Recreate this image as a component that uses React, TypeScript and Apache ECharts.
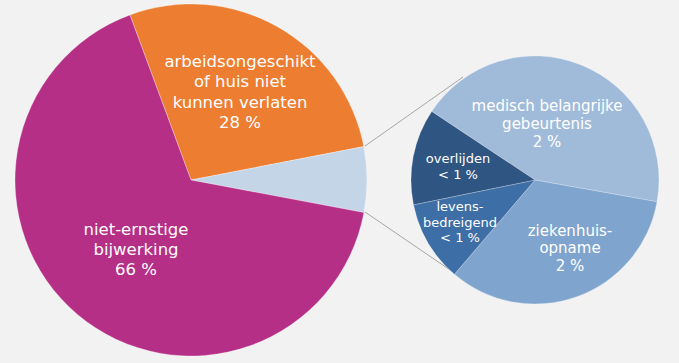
import React, { useEffect, useRef } from "react";
import * as echarts from "echarts";

// Main pie
const mainNames = ["arbeidsongeschikt\nof huis niet\nkunnen verlaten", "ernstig (uitgesplitst)", "niet-ernstige\nbijwerking"];
const mainValues = [27.6, 6.0, 66.4];
const mainLabels = ["28 %", "", "66 %"];
const mainColors = ["#ED7D31", "#C5D5E8", "#B52F86"];

// Detail pie
const detailNames = ["medisch belangrijke\ngebeurtenis", "ziekenhuis-\nopname", "levens-\nbedreigend", "overlijden"];
const detailValues = [2.6, 2.0, 0.63, 0.75];
const detailLabels = ["2 %", "2 %", "< 1 %", "< 1 %"];
const detailColors = ["#A0BBDA", "#7FA4CD", "#3E6EA6", "#2F5582"];

// label layout (text block centers, font size, line height)
const mainLabelPos = [[240, 92, 16.5, 20.5], null, [136, 249, 16.5, 20]];
const detailLabelPos = [[547, 124, 15, 18], [570, 248, 15, 17.5], [460, 222, 13, 15.5], [458, 166, 13, 16]];

export default function App() {
  const ref = useRef<HTMLDivElement>(null);
  useEffect(() => {
    document.body.style.margin = "0";
    const chart = echarts.init(ref.current!, null, { renderer: "svg" });
    const texts: any[] = [];
    const addText = (name: string, lab: string, pos: any) => {
      if (!pos) return;
      const [x, y, fs, lh] = pos;
      texts.push({
        type: "text",
        x,
        y,
        style: {
          text: name + "\n" + lab,
          fill: "#ffffff",
          font: `${fs}px Verdana, "DejaVu Sans", sans-serif`,
          lineHeight: lh,
          align: "center",
          verticalAlign: "middle",
        },
        z: 100,
      });
    };
    mainNames.forEach((n, i) => addText(n, mainLabels[i], mainLabelPos[i]));
    detailNames.forEach((n, i) => addText(n, detailLabels[i], detailLabelPos[i]));

    chart.setOption({
      animation: false,
      backgroundColor: "#F2F2F2",
      graphic: [
        { type: "line", shape: { x1: 365, y1: 146, x2: 463, y2: 77 }, style: { stroke: "#A6A6A6", lineWidth: 1 }, z: 1 },
        { type: "line", shape: { x1: 365, y1: 212, x2: 453, y2: 272 }, style: { stroke: "#A6A6A6", lineWidth: 1 }, z: 1 },
        ...texts,
      ],
      series: [
        {
          type: "pie",
          center: [191, 180],
          radius: [0, 176],
          startAngle: 110.3,
          clockwise: true,
          label: { show: false },
          labelLine: { show: false },
          emphasis: { disabled: true },
          itemStyle: { borderColor: "rgba(255,255,255,0.5)", borderWidth: 0.6 },
          data: mainNames.map((n, i) => ({ name: n, value: mainValues[i], itemStyle: { color: mainColors[i] } })),
        },
        {
          type: "pie",
          center: [535, 180],
          radius: [0, 124],
          startAngle: 146.4,
          clockwise: true,
          label: { show: false },
          labelLine: { show: false },
          emphasis: { disabled: true },
          itemStyle: { borderColor: "rgba(255,255,255,0.4)", borderWidth: 0.6 },
          data: detailNames.map((n, i) => ({ name: n, value: detailValues[i], itemStyle: { color: detailColors[i] } })),
        },
      ],
    });
    return () => chart.dispose();
  }, []);
  return <div ref={ref} style={{ width: 679, height: 363 }} />;
}
